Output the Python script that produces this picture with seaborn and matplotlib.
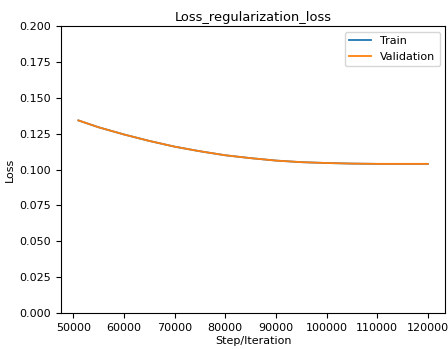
import matplotlib
matplotlib.use("Agg")
import matplotlib.pyplot as plt
import seaborn as sns
import pandas as pd

steps = [51000, 55000, 60000, 65000, 70000, 75000, 80000, 85000,
         90000, 95000, 100000, 105000, 110000, 115000, 120000]
train_loss = [0.1343, 0.1295, 0.1245, 0.1200, 0.1160, 0.1128, 0.1100, 0.1080,
              0.1063, 0.1052, 0.1046, 0.1042, 0.1040, 0.1040, 0.1040]
val_loss = [0.1343, 0.1295, 0.1245, 0.1200, 0.1160, 0.1128, 0.1100, 0.1080,
            0.1063, 0.1052, 0.1046, 0.1042, 0.1040, 0.1040, 0.1040]

df = pd.DataFrame({
    "Step/Iteration": steps + steps,
    "Loss": train_loss + val_loss,
    "Set": ["Train"] * len(steps) + ["Validation"] * len(steps),
})

plt.rcParams.update({
    "font.size": 8,
    "axes.titlesize": 9.4,
    "axes.labelsize": 8,
    "xtick.labelsize": 8,
    "ytick.labelsize": 8,
    "legend.fontsize": 8,
})

fig, ax = plt.subplots(figsize=(4.48, 3.49), dpi=100)
fig.subplots_adjust(left=0.136, right=0.994, top=0.925, bottom=0.103)
sns.lineplot(data=df, x="Step/Iteration", y="Loss", hue="Set",
             palette=["#1f77b4", "#ff7f0e"], ax=ax, linewidth=1.3)
ax.set_ylim(0, 0.2)
ax.set_title("Loss_regularization_loss", pad=4)
ax.legend(loc="upper right", title=None)
ax.xaxis.labelpad = 2
ax.yaxis.labelpad = 3
fig.savefig("out.png", dpi=100)
